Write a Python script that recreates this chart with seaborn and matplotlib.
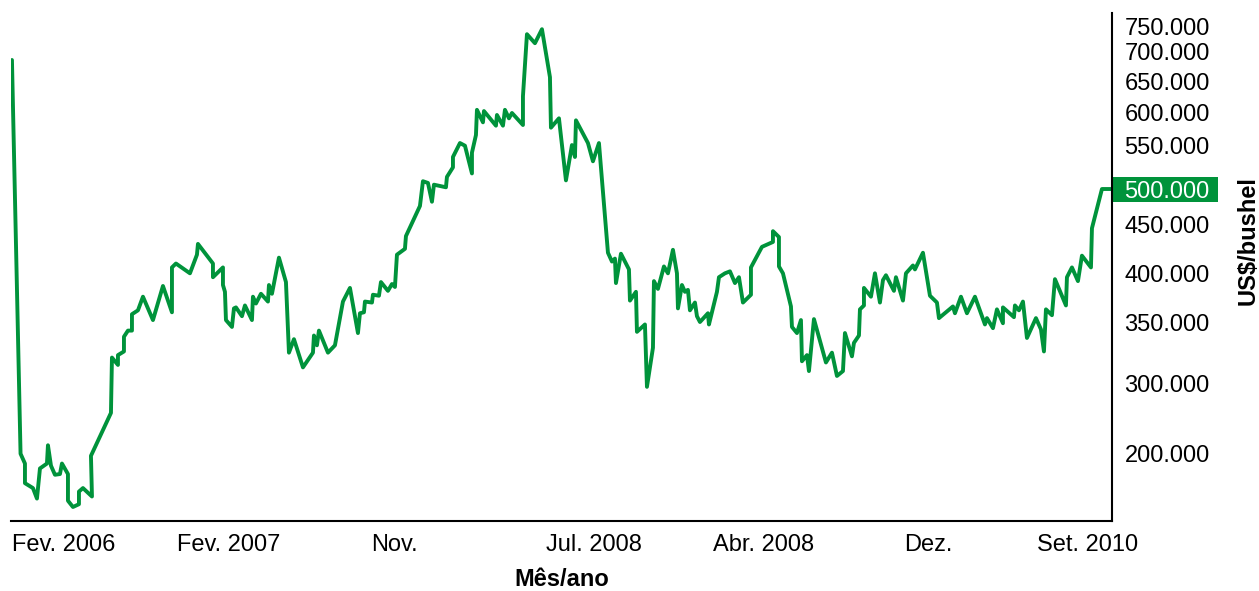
import numpy as np
import matplotlib
matplotlib.use("Agg")
import matplotlib.pyplot as plt
from matplotlib.patches import Rectangle
import seaborn as sns

# meses desde fev/2006 e preço (US$/bushel)
mes = [0.0, 0.43, 0.65, 0.65, 1.05, 1.25, 1.4, 1.75, 1.8, 1.95, 2.15, 2.4, 2.5, 2.8, 2.8,
       3.05, 3.35, 3.35, 3.55, 4.0, 3.95, 4.95, 5.0, 5.3, 5.3, 5.6, 5.6, 5.8, 6.0, 6.0,
       6.3, 6.55, 7.05, 7.55, 8.0, 8.0, 8.2, 8.9, 9.25, 9.3, 10.05, 10.05, 10.55, 10.55,
       10.65, 10.7, 11.0, 11.1, 11.2, 11.5, 11.65, 12.0, 12.05, 12.2, 12.45, 12.8, 12.85,
       13.0, 13.35, 13.7, 13.85, 14.1, 14.55, 15.05, 15.1, 15.25, 15.35, 15.8, 16.15,
       16.55, 16.9, 17.3, 17.4, 17.6, 17.65, 18.0, 18.05, 18.35, 18.45, 18.8, 19.0, 19.15,
       19.25, 19.65, 19.7, 20.4, 20.55, 20.8, 21.0, 21.1, 21.7, 21.75, 22.05, 22.05, 22.4,
       22.65, 23.0, 23.0, 23.2, 23.25, 23.55, 23.6, 24.2, 24.25, 24.55, 24.65, 24.85, 25.0,
       25.55, 25.55, 25.75, 26.15, 26.5, 26.9, 26.95, 27.35, 27.7, 28.0, 28.15, 28.2, 28.8,
       29.05, 29.35, 29.8, 30.0, 30.15, 30.2, 30.45, 30.85, 30.9, 31.2, 31.25, 31.65, 31.75,
       32.05, 32.1, 32.3, 32.6, 32.8, 33.05, 33.25, 33.3, 33.5, 33.65, 33.8, 33.9, 34.15,
       34.25, 34.4, 34.8, 34.85, 35.25, 35.35, 35.65, 35.9, 36.15, 36.35, 36.55, 36.95,
       36.95, 37.5, 38.05, 38.05, 38.35, 38.35, 38.55, 38.95, 39.0, 39.25, 39.45, 39.5,
       39.75, 39.85, 40.1, 40.7, 41.0, 41.25, 41.55, 41.65, 42.0, 42.1, 42.35, 42.4, 42.6,
       42.6, 42.95, 43.15, 43.4, 43.55, 43.7, 44.1, 44.2, 44.55, 44.7, 45.05, 45.15, 45.55,
       45.9, 46.25, 46.35, 47.05, 47.15, 47.45, 47.75, 48.15, 48.65, 48.75, 49.05, 49.25,
       49.55, 49.55, 50.1, 50.15, 50.35, 50.55, 50.75, 51.2, 51.45, 51.6, 51.7, 52.0, 52.15,
       52.7, 52.75, 53.0, 53.3, 53.5, 53.95, 54.0, 54.5, 55.0]
preco = [686, 200, 186, 158, 151, 136, 179, 186, 212, 183, 170, 171, 186, 171, 133,
         124, 128, 146, 151, 139, 197, 258, 321, 315, 323, 326, 338, 343, 343, 358,
         362, 376, 352, 387, 360, 406, 410, 400, 419, 430, 410, 396, 406, 388,
         381, 352, 346, 364, 365, 356, 367, 352, 376, 369, 379, 371, 388,
         379, 416, 391, 325, 336, 313, 325, 339, 331, 343, 325, 331,
         371, 385, 341, 359, 360, 371, 370, 378, 377, 391, 382, 389, 386,
         419, 425, 438, 476, 509, 507, 482, 505, 502, 514, 525, 537, 554,
         550, 518, 542, 566, 604, 585, 602, 580, 596, 580, 604, 591, 599,
         581, 626, 735, 717, 745, 657, 577, 591, 510, 551, 537, 588, 554,
         532, 554, 421, 412, 415, 390, 420, 404, 372, 381, 342, 348, 295,
         329, 392, 384, 407, 400, 424, 400, 364, 388, 381, 383, 362, 370,
         356, 350, 359, 348, 381, 396, 400, 402, 390, 396, 370, 378,
         406, 427, 432, 443, 437, 407, 400, 366, 346, 341, 352, 318,
         323, 310, 353, 317, 325, 306, 310, 341, 322, 333, 339, 363, 367,
         385, 376, 400, 370, 393, 398, 382, 396, 372, 400, 408, 404, 421,
         377, 370, 354, 366, 359, 376, 359, 376, 348, 354, 345, 363,
         349, 365, 355, 367, 362, 371, 337, 354, 344, 326, 363, 357, 394,
         367, 396, 406, 392, 418, 406, 446, 500, 500]

# eixo y irregular: marcas e sua posição relativa no gráfico original
marcas_y = [200, 300, 350, 400, 450, 500, 550, 600, 650, 700, 750]
escala_v = [104, 200, 300, 350, 400, 450, 500, 550, 600, 650, 700, 750, 778]
escala_p = [0.0, 67.3, 137.7, 199.0, 247.7, 296.7, 332.0, 375.3, 408.7, 439.7, 469.3, 494.3, 508.3]

rotulos_x = ["Fev. 2006", "Fev. 2007", "Nov.", "Jul. 2008", "Abr. 2008", "Dez.", "Set. 2010"]
pos_x = [2.6, 10.85, 19.1, 29.1, 37.6, 45.8, 53.8]

verde = "#00933b"


def fwd(v):
    return np.interp(v, escala_v, escala_p)


def inv(p):
    return np.interp(p, escala_p, escala_v)


sns.set_style("white")
plt.rcParams["font.family"] = ["Liberation Sans", "DejaVu Sans"]

fig = plt.figure(figsize=(12.59, 5.91), dpi=100)
ax = fig.add_axes([0.0087, 0.1184, 0.8745, 0.8601])

sns.lineplot(x=mes, y=preco, estimator=None, sort=False, color=verde,
             linewidth=2.8, ax=ax)

ax.set_yscale("function", functions=(fwd, inv))
ax.set_ylim(104, 778)
ax.set_xlim(-0.05, 55.0)

ax.set_yticks(marcas_y)
ax.set_yticklabels([f"{v:.3f}" for v in marcas_y])
ax.yaxis.tick_right()
ax.tick_params(axis="y", length=0, pad=9, labelsize=17, colors="black")
ax.set_xticks(pos_x)
ax.set_xticklabels(rotulos_x)
ax.tick_params(axis="x", length=0, pad=9, labelsize=17, colors="black")
ax.minorticks_off()

for s in ["left", "top"]:
    ax.spines[s].set_visible(False)
for s in ["bottom", "right"]:
    ax.spines[s].set_color("black")
    ax.spines[s].set_linewidth(1.5)

ax.set_xlabel("Mês/ano", fontsize=17, fontweight="bold", va="center", color="black")
ax.xaxis.set_label_coords(0.5, -0.116)
ax.yaxis.set_label_position("right")
ax.set_ylabel("US$/bushel", fontsize=17, fontweight="bold", rotation=90,
              va="center", ha="center", color="black")
ax.yaxis.set_label_coords(1.124, 0.551)

# destaque do valor atual
y500 = ax.transAxes.inverted().transform(ax.transData.transform((0, 500)))[1]
ax.add_patch(Rectangle((1.0, y500 - 0.025), 0.096, 0.049, transform=ax.transAxes,
                       facecolor=verde, edgecolor="none", clip_on=False, zorder=0.2))
for lab in ax.get_yticklabels():
    if lab.get_text() == "500.000":
        lab.set_color("white")

fig.savefig("out.png", dpi=100)
